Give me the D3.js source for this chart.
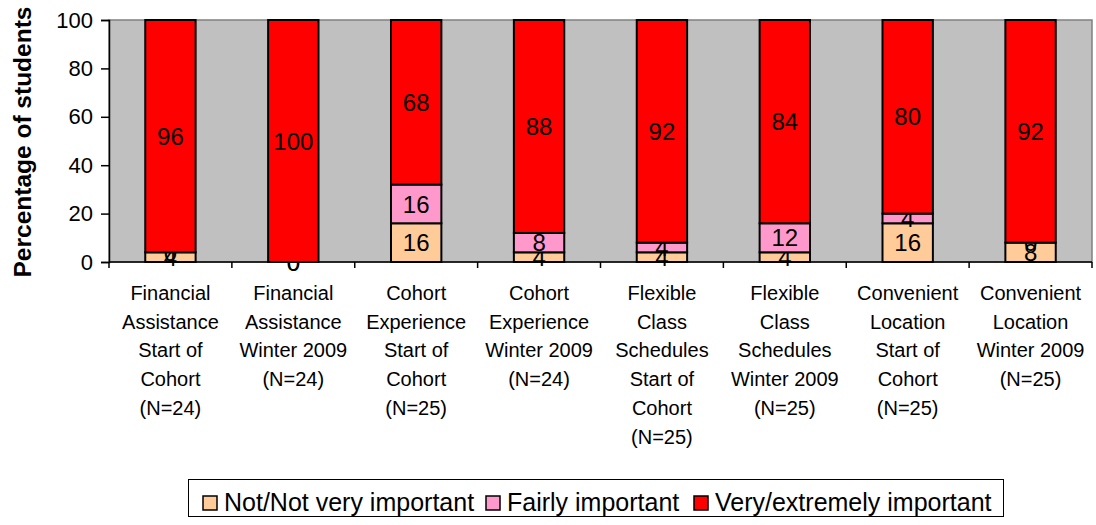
<!DOCTYPE html>
<meta charset="utf-8">
<style>
body { margin: 0; background: #fff; }
text { font-family: Arial, "Liberation Sans", sans-serif; fill: #000; }
</style>
<body>
<script src="https://cdnjs.cloudflare.com/ajax/libs/d3/7.8.5/d3.min.js"></script>
<script>

var categories = [
  ["Financial", "Assistance", "Start of", "Cohort", "(N=24)"],
  ["Financial", "Assistance", "Winter 2009", "(N=24)"],
  ["Cohort", "Experience", "Start of", "Cohort", "(N=25)"],
  ["Cohort", "Experience", "Winter 2009", "(N=24)"],
  ["Flexible", "Class", "Schedules", "Start of", "Cohort", "(N=25)"],
  ["Flexible", "Class", "Schedules", "Winter 2009", "(N=25)"],
  ["Convenient", "Location", "Start of", "Cohort", "(N=25)"],
  ["Convenient", "Location", "Winter 2009", "(N=25)"]
];
var seriesNames = ["Not/Not very important", "Fairly important", "Very/extremely important"];
var notImportant = [4, 0, 16, 4, 4, 4, 16, 8];
var fairlyImportant = [0, 0, 16, 8, 4, 12, 4, 0];
var veryImportant = [96, 100, 68, 88, 92, 84, 80, 92];
var yTicks = [0, 20, 40, 60, 80, 100];
var colors = ["#FFCC99", "#FF99CC", "#FF0000"];

var width = 1096, height = 525;
var margin = {left: 109, right: 4, top: 20, bottom: 263};

var svg = d3.select("body").append("svg")
    .attr("width", width)
    .attr("height", height);

var x = d3.scaleBand()
    .domain(d3.range(categories.length))
    .range([margin.left, width - margin.right])
    .paddingInner(0.59)
    .paddingOuter(0.295);

var y = d3.scaleLinear()
    .domain([0, 100])
    .range([height - margin.bottom, margin.top]);

// plot background
svg.append("rect")
    .attr("x", margin.left)
    .attr("y", margin.top)
    .attr("width", width - margin.right - margin.left)
    .attr("height", y(0) - margin.top)
    .attr("fill", "#C0C0C0")
    .attr("stroke", "#808080")
    .attr("stroke-width", 1.5);

var rows = categories.map(function(c, i) {
  return {i: i, a: notImportant[i], b: fairlyImportant[i], c: veryImportant[i]};
});
var stack = d3.stack().keys(["a", "b", "c"])(rows);

var layer = svg.selectAll(".layer")
    .data(stack)
  .enter().append("g")
    .attr("fill", function(d, i) { return colors[i]; });

layer.selectAll("rect")
    .data(function(d) { return d; })
  .enter().append("rect")
    .attr("x", function(d) { return x(d.data.i); })
    .attr("width", x.bandwidth())
    .attr("y", function(d) { return y(d[1]); })
    .attr("height", function(d) { return y(d[0]) - y(d[1]); })
    .attr("stroke", "#000")
    .attr("stroke-width", 2);

// value labels
layer.selectAll("text")
    .data(function(d) { return d; })
  .enter().append("text")
    .attr("x", function(d) { return x(d.data.i) + x.bandwidth() / 2; })
    .attr("y", function(d) { return y((d[0] + d[1]) / 2); })
    .attr("dy", "0.36em")
    .attr("text-anchor", "middle")
    .style("font-size", "24px")
    .style("fill", "#000")
    .text(function(d) { return d[1] - d[0]; });

// y axis
var yAxis = svg.append("g")
    .attr("transform", "translate(" + margin.left + ",0)")
    .call(d3.axisLeft(y).tickValues(yTicks).tickSize(8).tickPadding(8));
yAxis.selectAll("text").style("font-size", "22px").style("font-family", "Arial, 'Liberation Sans', sans-serif");
yAxis.selectAll("line,path").attr("stroke", "#000").attr("stroke-width", 1.5);

// x axis with ticks at band boundaries
svg.append("line")
    .attr("x1", margin.left).attr("x2", width - margin.right)
    .attr("y1", y(0)).attr("y2", y(0))
    .attr("stroke", "#000").attr("stroke-width", 1.5);
var step = x.step();
svg.selectAll(".xtick")
    .data(d3.range(categories.length + 1))
  .enter().append("line")
    .attr("x1", function(d) { return margin.left + d * step; })
    .attr("x2", function(d) { return margin.left + d * step; })
    .attr("y1", y(0)).attr("y2", y(0) + 6)
    .attr("stroke", "#000").attr("stroke-width", 1.5);

// category labels
var catLabel = svg.selectAll(".cat")
    .data(categories)
  .enter().append("text")
    .attr("text-anchor", "middle")
    .style("font-size", "20px");
catLabel.selectAll("tspan")
    .data(function(d, i) { return d.map(function(s) { return {s: s, i: i}; }); })
  .enter().append("tspan")
    .attr("x", function(d) { return x(d.i) + x.bandwidth() / 2; })
    .attr("y", function(d, j) { return 300 + j * 28.7; })
    .text(function(d) { return d.s; });

// y title
svg.append("text")
    .attr("transform", "translate(31,142) rotate(-90)")
    .attr("text-anchor", "middle")
    .style("font-size", "24.5px")
    .style("font-weight", "bold")
    .text("Percentage of students");

// legend
var legend = svg.append("g");
legend.append("rect")
    .attr("x", 188.5).attr("y", 479.5)
    .attr("width", 815).attr("height", 37)
    .attr("fill", "#fff").attr("stroke", "#000");
var legendX = [203, 486, 694];
var item = legend.selectAll(".item")
    .data(seriesNames)
  .enter().append("g")
    .attr("transform", function(d, i) { return "translate(" + legendX[i] + ",502)"; });
item.append("rect")
    .attr("x", 0).attr("y", -6)
    .attr("width", 14).attr("height", 14)
    .attr("fill", function(d, i) { return colors[i]; })
    .attr("stroke", "#000").attr("stroke-width", 1.5);
item.append("text")
    .attr("x", 21).attr("dy", "0.36em")
    .style("font-size", "25px")
    .text(function(d) { return d; });

</script>
